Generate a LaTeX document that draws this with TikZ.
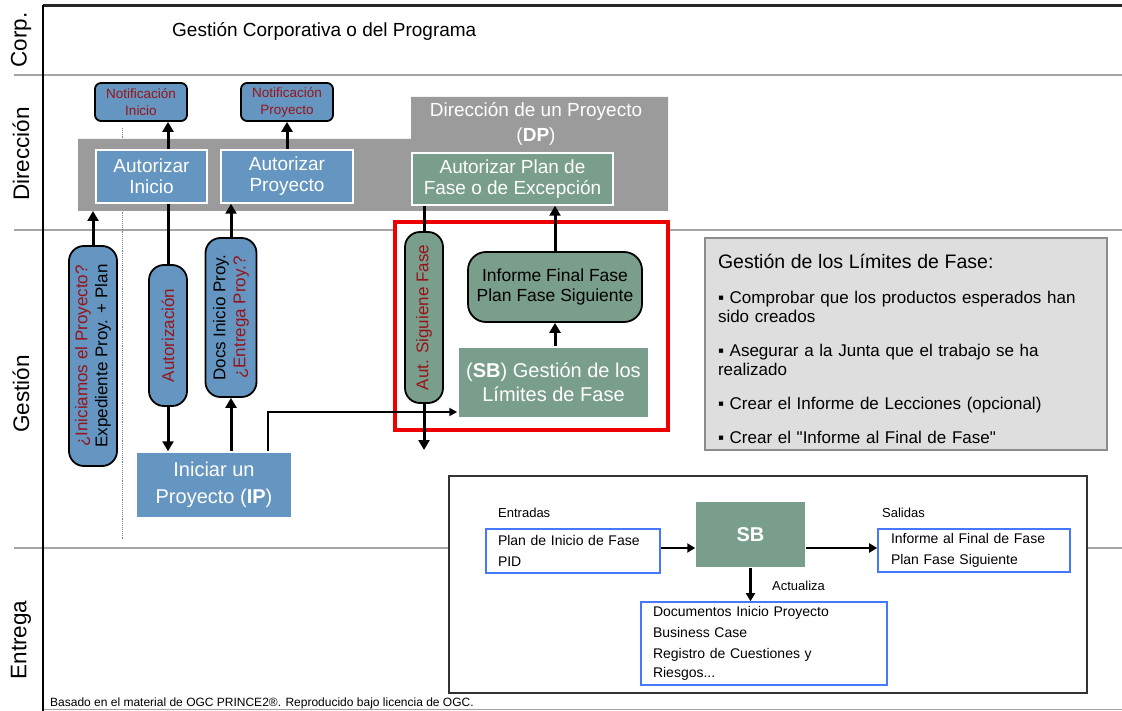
\documentclass[tikz,border=0pt]{standalone}
\usepackage{fontspec}
\setmainfont{Liberation Sans}[Ligatures=TeXOff]
\usepackage{tikz}
\usetikzlibrary{arrows.meta}
\definecolor{boxblue}{RGB}{101,150,193}
\definecolor{boxgreen}{RGB}{122,158,140}
\definecolor{bandgray}{RGB}{155,155,155}
\definecolor{notered}{RGB}{150,20,25}
\definecolor{lanegray}{RGB}{165,165,165}
\definecolor{infogray}{RGB}{222,222,222}
\definecolor{infoedge}{RGB}{140,140,140}
\definecolor{flowblue}{RGB}{70,120,255}
\definecolor{boxred}{RGB}{238,0,0}
\newcommand{\setfs}[2]{\fontsize{#1}{#2}\selectfont}
\tikzstyle{lane}=[rotate=90,inner sep=0pt,font=\setfs{22.5}{26}]
\tikzstyle{laneline}=[draw=lanegray,line width=1.5pt]
\tikzstyle{proc}=[draw=white,line width=1.5pt,text=white,align=center,inner sep=0pt,font=\setfs{19}{21}]
\tikzstyle{bluebox}=[proc,fill=boxblue]
\tikzstyle{greenbox}=[proc,fill=boxgreen]
\tikzstyle{notif}=[draw=black,fill=boxblue,line width=1.8pt,rounded corners=6pt,text=notered,align=center,inner sep=0pt,font=\setfs{13.5}{17}]
\tikzstyle{pill}=[draw=black,fill=boxblue,line width=1.8pt,rounded corners=15pt,rotate=90,align=center,inner sep=0pt,font=\setfs{17}{20}]
\tikzstyle{arr}=[line width=3pt,-{Triangle[length=10pt,width=11pt]}]
\tikzstyle{lnk}=[line width=3pt]
\tikzstyle{farr}=[line width=2.2pt,-{Triangle[length=8pt,width=9pt]}]
\tikzstyle{fbox}=[draw=flowblue,line width=1.6pt,fill=white,align=left,inner sep=0pt,font=\setfs{14}{21}]
\tikzstyle{flabel}=[anchor=west,inner sep=0pt,font=\setfs{13}{15}]

\begin{document}
\begin{tikzpicture}[x=1pt,y=-1pt]
    \useasboundingbox (0,0) rectangle (1122,711);
    % lanes
    \draw[laneline] (14,75) -- (1122,75);
    \draw[laneline] (14,230) -- (1122,230);
    \draw[laneline] (14,548) -- (1122,548);
    \draw[lanegray,line width=1pt] (43,709) -- (1122,709);
    \draw[black!85,line width=3pt] (43,6) -- (1122,6);
    \draw[black,line width=2.5pt] (43,5) -- (43,711);
    \node[lane] (LC) at (21,40)  {Corp.};
    \node[lane] (LD) at (21,154) {Dirección};
    \node[lane] (LG) at (21,394) {Gestión};
    \node[lane] (LE) at (21,640) {Entrega};
    \node[anchor=west,inner sep=0pt,font=\setfs{19}{22}] (CORP) at (172,31) {Gestión Corporativa o del Programa};
    \node[anchor=west,inner sep=0pt,font=\setfs{12}{14}] (FOOT) at (50,703) {Basado en el material de OGC PRINCE2®. Reproducido bajo licencia de OGC.};
    \draw[gray,densely dotted,line width=0.9pt] (122,128) -- (122,540);
	\draw[boxred,fill=white,line width=3.5pt] (395,222) rectangle (668,430);
    % Direccion band
    \fill[bandgray] (78,139) -- (411,139) -- (411,97) -- (668,97) -- (668,211) -- (78,211) -- cycle;
    \coordinate (bandB) at (0,211);
    \node[text=white,align=center,inner sep=0pt,font=\setfs{19}{25}] (DP) at (536,124) {Dirección de un Proyecto\\(\textbf{DP})};
    \node[bluebox,minimum width=111,minimum height=53] (AI) at (151.5,176.5) {Autorizar\\Inicio};
    \node[bluebox,minimum width=132,minimum height=53] (AP) at (287,176.5) {Autorizar\\Proyecto};
    \node[greenbox,minimum width=201,minimum height=52] (AF) at (512.5,179) {Autorizar Plan de\\Fase o de Excepción};
    \node[notif,minimum width=92,minimum height=38] (NI) at (141,102) {Notificación\\Inicio};
    \node[notif,minimum width=92,minimum height=38] (NP) at (287,102) {Notificación\\Proyecto};
    % Gestion
    \node[pill,minimum width=220,minimum height=48] (P1) at (93,356) {\textcolor{notered}{¿Iniciamos el Proyecto?}\\Expediente Proy. + Plan};
    \node[pill,minimum width=141,minimum height=38] (P2) at (168,335.5) {\textcolor{notered}{Autorización}};
    \node[pill,minimum width=159,minimum height=51] (P3) at (231,317.5) {Docs Inicio Proy.\\\textcolor{notered}{¿Entrega Proy.?}};
    \node[pill,fill=boxgreen,minimum width=171,minimum height=38] (P4) at (424,317.5) {\textcolor{notered}{Aut. Siguiene Fase}};
    \node[bluebox,font=\setfs{20}{27},minimum width=156,minimum height=66] (IP) at (214,485) {Iniciar un\\Proyecto (\textbf{IP})};
    \node[greenbox,font=\setfs{20}{24},minimum width=191,minimum height=71] (SB) at (553.5,382.5) {(\textbf{SB}) Gestión de los\\Límites de Fase};
    \node[draw=black,fill=boxgreen,line width=1.8pt,rounded corners=18pt,align=center,inner sep=0pt,font=\setfs{17.5}{20},minimum width=174,minimum height=70] (INF) at (555,287) {Informe Final Fase\\Plan Fase Siguiente};
    \node[draw=infoedge,fill=infogray,line width=2pt,align=left,inner sep=0pt,text width=376,font=\setfs{17}{19},minimum width=402,minimum height=212] (GLF) at (906,344) {{\setfs{19.5}{22}\rule{0pt}{24pt}Gestión de los Límites de Fase:}\\[16pt]
	▪ Comprobar que los productos esperados han\\sido creados\\[15pt]
	▪ Asegurar a la Junta que el trabajo se ha\\realizado\\[15pt]
	▪ Crear el Informe de Lecciones (opcional)\\[15pt]
	▪ Crear el "Informe al Final de Fase"};
    \coordinate (ipTurn) at (268,412);
    \coordinate (sigOut) at (424,450);
    % connectors
    \draw[arr] (AI.north -| P2) -- (NI.south -| P2);
    \draw[arr] (AP) -- (NP);
    \draw[arr] (P1) -- (P1 |- bandB);
    \draw[lnk] (AI.south -| P2) -- (P2);
    \draw[arr] (P2) -- (IP.north -| P2);
    \draw[arr] (IP.north -| P3) -- (P3);
    \draw[arr] (P3) -- (AP.south -| P3);
    \draw[line width=1.8pt,-{Triangle[length=8pt,width=8pt]}] (IP.north -| ipTurn) -- (ipTurn) -- (SB.west |- ipTurn);
    \draw[lnk] (AF.south -| P4) -- (P4);
    \draw[arr] (P4) -- (sigOut);
    \draw[arr] (SB.north -| INF) -- (INF);
    \draw[arr] (INF) -- (INF |- AF.south);
    % Entrega: SB in detail
    \draw[black!80,fill=white,line width=1.3pt] (449,476) rectangle (1087,693);
    \node[flabel] (ENT) at (498,513) {Entradas};
    \node[flabel] (SAL) at (882,513) {Salidas};
    \node[flabel] (ACT) at (772,586) {Actualiza};
    \node[fbox,text width=150,minimum width=174,minimum height=44] (INP) at (573,551) {Plan de Inicio de Fase\\PID};
    \node[greenbox,draw=none,font=\setfs{20}{24}\bfseries,minimum width=109,minimum height=65] (SBB) at (750.5,534.5) {SB};
    \node[fbox,text width=166,minimum width=192,minimum height=43] (OUT) at (974,550.5) {Informe al Final de Fase\\Plan Fase Siguiente};
    \node[fbox,text width=222,minimum width=246,minimum height=83] (UPD) at (764,643.5) {Documentos Inicio Proyecto\\Business Case\\Registro de Cuestiones y\\[-2pt]Riesgos...};
    \draw[farr] (INP.east |- 0,548) -- (SBB.west |- 0,548);
    \draw[farr] (SBB.east |- 0,548) -- (OUT.west |- 0,548);
    \draw[farr] (SBB) -- (UPD.north -| SBB);
\end{tikzpicture}
\end{document}
